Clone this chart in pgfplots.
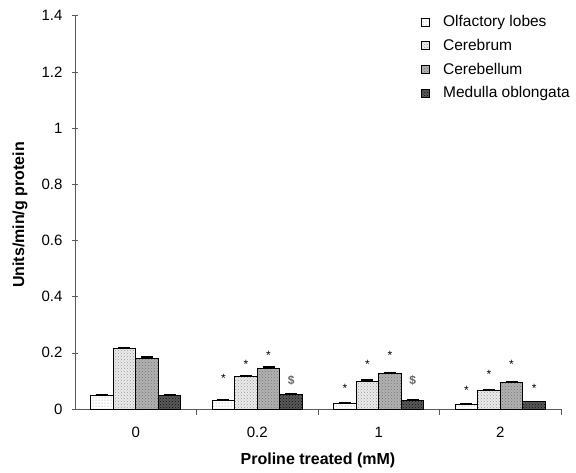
\documentclass[border=0pt]{standalone}
\usepackage{pgfplots}
\pgfplotsset{compat=1.18}
\usepackage{pgfplotstable}
\usepackage{fontspec}
\setmainfont{Liberation Sans}
\usetikzlibrary{patterns}

\pgfplotstableread{
x olf olfe cer cere cbl cble med mede
0 0.047 0.003 0.214 0.004 0.178 0.007 0.047 0.002
1 0.032 0.002 0.116 0.003 0.144 0.005 0.053 0.002
2 0.021 0.003 0.099 0.004 0.125 0.003 0.031 0.002
3 0.017 0.002 0.067 0.002 0.095 0.002 0.025 0.002
}\datatable

\pgfplotsset{mylegend/.style={legend image code/.code={\draw[##1, line width=0.8pt] (0pt,-4pt) rectangle (8pt,4pt); \path (15.5pt,0pt);}}}

\begin{document}
\begin{tikzpicture}[x=1pt,y=1pt]
\useasboundingbox (-75,-63) rectangle (501,409);
\begin{axis}[
  at={(0,0)}, anchor=south west,
  scale only axis,
  width=486pt, height=393.3pt,
  xmin=-0.5, xmax=3.5,
  ymin=0, ymax=1.4,
  axis lines*=left,
  axis line style={gray!70!black, line width=0.6pt},
  ytick={0,0.2,...,1.4},
  xtick={0,1,2,3},
  xticklabels={0,0.2,1,2},
  minor xtick={0.5,1.5,2.5,3.5},
  major x tick style={draw=none},
  minor x tick style={gray!70!black, line width=0.6pt},
  minor tick length=6pt,
  major tick length=6pt,
  tick align=center,
  y tick style={gray!70!black, line width=0.6pt},
  /pgf/number format/assume math mode=true,
  tick label style={font=\fontsize{15}{17}\selectfont},
  xticklabel style={anchor=center, yshift=-17pt},
  yticklabel style={anchor=east, xshift=-6pt},
  xlabel={\textbf{Proline treated (mM)}},
  label style={font=\fontsize{16}{18}\selectfont},
  xlabel style={at={(axis description cs:0.5,0)}, anchor=center, yshift=-51pt},
  legend style={at={(axis description cs:0.711,1.006)}, anchor=north west, draw=none, fill=none,
    font=\fontsize{15.5}{17}\selectfont, row sep=7pt, inner sep=0pt, nodes={inner xsep=6pt}},
  legend cell align=left,
  ybar, bar width=0.186,
  every axis plot/.append style={draw=black, line width=1pt},
  error bars/y dir=plus, error bars/y explicit,
  error bars/error bar style={line width=1.5pt, black},
  error bars/error mark options={rotate=90, mark size=6pt, line width=1.5pt, black},
  clip=false,
]
\addplot[mylegend, bar shift=-0.279, fill=white, postaction={pattern=dots, pattern color=black!45}]
  table[x=x, y=olf, y error=olfe] {\datatable};
\addplot[mylegend, bar shift=-0.093, fill=black!8, postaction={pattern=crosshatch dots, pattern color=black!40}]
  table[x=x, y=cer, y error=cere] {\datatable};
\addplot[mylegend, bar shift=0.093, fill=black!30, postaction={pattern=crosshatch dots, pattern color=black!55}]
  table[x=x, y=cbl, y error=cble] {\datatable};
\addplot[mylegend, bar shift=0.279, fill=black!65, postaction={pattern=crosshatch dots, pattern color=black!95}]
  table[x=x, y=med, y error=mede] {\datatable};
\legend{Olfactory lobes, Cerebrum, Cerebellum, Medulla oblongata}

\node[rotate=90, anchor=center, font=\fontsize{16}{18}\selectfont\bfseries] at ([xshift=-55pt]axis description cs:0,0.493) {Units/min/g protein};

\node[font=\large] at (axis cs:0.721,0.108) {*};
\node[font=\large] at (axis cs:0.907,0.158) {*};
\node[font=\large] at (axis cs:1.093,0.190) {*};
\node[font=\large, text=black!60] at (axis cs:1.279,0.100) {\textbf{\$}};
\node[font=\large] at (axis cs:1.721,0.073) {*};
\node[font=\large] at (axis cs:1.907,0.158) {*};
\node[font=\large] at (axis cs:2.093,0.190) {*};
\node[font=\large, text=black!60] at (axis cs:2.279,0.100) {\textbf{\$}};
\node[font=\large] at (axis cs:2.721,0.066) {*};
\node[font=\large] at (axis cs:2.907,0.123) {*};
\node[font=\large] at (axis cs:3.093,0.158) {*};
\node[font=\large] at (axis cs:3.279,0.073) {*};
\end{axis}
\end{tikzpicture}
\end{document}
